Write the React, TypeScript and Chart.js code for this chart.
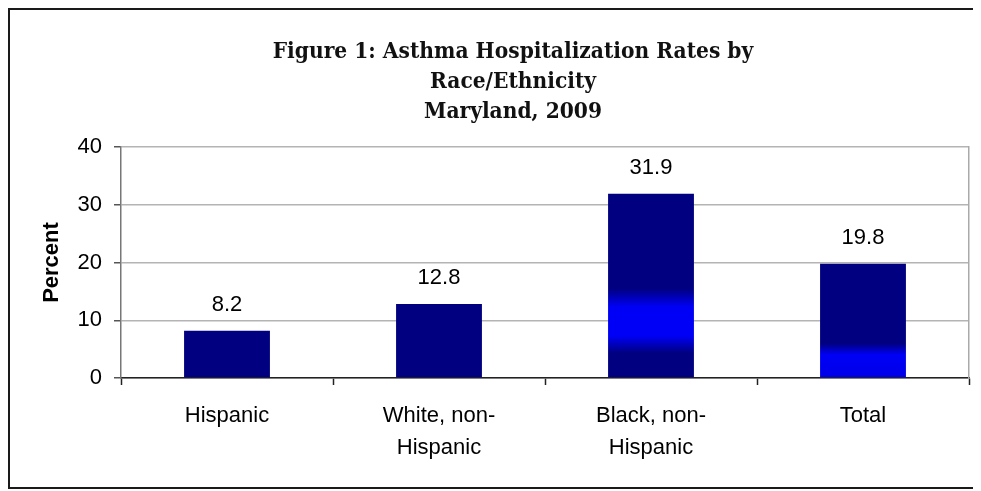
import React, { useEffect, useRef } from "react";
import { Chart, registerables } from "chart.js";

Chart.register(...registerables);

const CATEGORIES: string[][] = [
  ["Hispanic"],
  ["White, non-", "Hispanic"],
  ["Black, non-", "Hispanic"],
  ["Total"],
];
const VALUES: number[] = [8.2, 12.8, 31.9, 19.8];
const TITLE_LINES: string[] = [
  "Figure 1: Asthma Hospitalization Rates by",
  "Race/Ethnicity",
  "Maryland, 2009",
];
const Y_TITLE = "Percent";
const Y_MIN = 0;
const Y_MAX = 40;
const Y_STEP = 10;

const NAVY = "#000080";
const BRIGHT = "#0000f6";
const SANS = "'Liberation Sans', Arial, sans-serif";
const SERIF = "'DejaVu Serif Condensed', 'DejaVu Serif', serif";

export default function App() {
  const canvasRef = useRef<HTMLCanvasElement | null>(null);

  useEffect(() => {
    const canvas = canvasRef.current;
    if (!canvas) return;

    const titlePlugin = {
      id: "figTitle",
      afterDraw(chart: any) {
        const ctx = chart.ctx;
        ctx.save();
        ctx.fillStyle = "#111";
        ctx.font = `bold 22.5px ${SERIF}`;
        ctx.textAlign = "center";
        ctx.textBaseline = "alphabetic";
        const baselines = [48, 78, 108];
        TITLE_LINES.forEach((line, i) => ctx.fillText(line, 503, baselines[i]));
        ctx.restore();
      },
    };

    const valuePlugin = {
      id: "valueLabels",
      afterDatasetsDraw(chart: any) {
        const ctx = chart.ctx;
        const meta = chart.getDatasetMeta(0);
        ctx.save();
        ctx.fillStyle = "#000";
        ctx.font = `22px ${SANS}`;
        ctx.textAlign = "center";
        ctx.textBaseline = "middle";
        meta.data.forEach((bar: any, i: number) => {
          ctx.fillText(VALUES[i].toFixed(1), bar.x, bar.y - 26);
        });
        ctx.restore();
      },
    };

    const barColor = (c: any) => {
      const chart = c.chart;
      const y = chart.scales?.y;
      if (!y || !chart.chartArea) return NAVY;
      const px = (v: number) => y.getPixelForValue(v);
      const top = chart.chartArea.top;
      const bottom = chart.chartArea.bottom;
      const frac = (v: number) => Math.min(1, Math.max(0, (px(v) - top) / (bottom - top)));
      if (c.dataIndex === 2) {
        const g = chart.ctx.createLinearGradient(0, top, 0, bottom);
        g.addColorStop(0, NAVY);
        g.addColorStop(frac(15.5), NAVY);
        g.addColorStop(frac(12.3), BRIGHT);
        g.addColorStop(frac(7.3), BRIGHT);
        g.addColorStop(frac(4.3), NAVY);
        g.addColorStop(1, NAVY);
        return g;
      }
      if (c.dataIndex === 3) {
        const g = chart.ctx.createLinearGradient(0, top, 0, bottom);
        g.addColorStop(0, NAVY);
        g.addColorStop(frac(6.0), NAVY);
        g.addColorStop(frac(4.0), BRIGHT);
        g.addColorStop(1, "#0000e8");
        return g;
      }
      return NAVY;
    };

    const chart = new Chart(canvas, {
      type: "bar",
      data: {
        labels: CATEGORIES,
        datasets: [
          {
            data: VALUES,
            backgroundColor: barColor,
            borderWidth: 0,
            barPercentage: 0.405,
            categoryPercentage: 1,
          },
        ],
      },
      options: {
        responsive: false,
        animation: false,
        layout: { padding: { top: 137, right: 9, left: 0, bottom: 0 } },
        plugins: {
          legend: { display: false },
          title: { display: false },
          tooltip: { enabled: false },
        },
        scales: {
          x: {
            grid: {
              display: true,
              drawOnChartArea: false,
              drawTicks: true,
              tickLength: 7,
              tickColor: "#222",
              tickWidth: 1.5,
              offset: true,
            },
            border: { display: true, color: "#222", width: 1.5 },
            ticks: {
              color: "#000",
              font: { family: SANS, size: 22, lineHeight: 1.45 },
              padding: 15,
              maxRotation: 0,
              autoSkip: false,
            },
            afterFit: (scale: any) => {
              scale.height = 109;
            },
          },
          y: {
            min: Y_MIN,
            max: Y_MAX,
            ticks: {
              stepSize: Y_STEP,
              color: "#000",
              font: { family: SANS, size: 22 },
              padding: 12,
            },
            grid: {
              color: "#b4b4b4",
              lineWidth: 1.5,
              drawTicks: true,
              tickLength: 7,
              tickColor: "#555",
              tickWidth: 1.5,
            },
            border: { display: true, color: "#777", width: 1.5 },
            title: {
              display: true,
              text: Y_TITLE,
              color: "#000",
              font: { family: SANS, size: 22, weight: "bold" },
              padding: { top: 29, bottom: 0 },
            },
            afterFit: (scale: any) => {
              scale.width = 111;
            },
          },
          y2: {
            position: "right",
            min: Y_MIN,
            max: Y_MAX,
            ticks: { display: false },
            grid: { display: false, drawTicks: false },
            border: { display: true, color: "#aaa", width: 1.5 },
            afterFit: (scale: any) => {
              scale.width = 0;
            },
          },
        },
      },
      plugins: [titlePlugin, valuePlugin],
    } as any);

    return () => chart.destroy();
  }, []);

  return (
    <div
      style={{
        position: "relative",
        width: 971,
        height: 481,
        boxSizing: "border-box",
        borderTop: "2px solid #1a1a1a",
        borderLeft: "2px solid #1a1a1a",
        borderBottom: "2px solid #1a1a1a",
        borderRight: "1px solid #aaa",
        background: "#fff",
      }}
    >
      <canvas ref={canvasRef} width={968} height={477} style={{ display: "block" }} />
    </div>
  );
}
